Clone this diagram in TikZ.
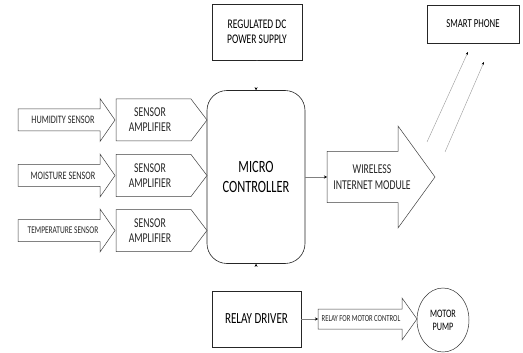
\documentclass[tikz,border=0pt]{standalone}
\usepackage{fontspec}
\setmainfont{Carlito}[FakeStretch=0.72]
\usetikzlibrary{arrows.meta,shapes.geometric}
\tikzset{
  box/.style={draw=black!85, line width=0.6pt, align=center, inner sep=1pt},
  blk/.style={draw=black!75, line width=0.5pt, fill=white},
  lbl/.style={align=center, inner sep=0pt, text=black!85},
}
\newcommand{\blockarrow}[6]{% x0, xhead, xtip, yc, halfbody, halfhead
  \draw[blk] (#1,#4-#5) -- (#2,#4-#5) -- (#2,#4-#6) -- (#3,#4) -- (#2,#4+#6) -- (#2,#4+#5) -- (#1,#4+#5) -- cycle;}
\newcommand{\pentagonarrow}[5]{% x0, xbend, xtip, yc, half
  \draw[blk] (#1,#4-#5) -- (#2,#4-#5) -- (#3,#4) -- (#2,#4+#5) -- (#1,#4+#5) -- cycle;}
\begin{document}
\begin{tikzpicture}[x=1pt,y=-1pt]
\useasboundingbox[fill=white] (0,0) rectangle (523,353);

% top boxes
\node[box, minimum width=90pt, minimum height=56pt, font=\fontsize{13.2}{15}\selectfont] (psu) at (257,32) {REGULATED DC\\POWER SUPPLY};
\node[box, minimum width=92pt, minimum height=38pt, font=\fontsize{12.2}{14}\selectfont] (phone) at (473,24) {SMART PHONE};

% microcontroller
\node[box, rounded corners=20pt, minimum width=98pt, minimum height=173pt, font=\fontsize{17.2}{20}\selectfont] (mc) at (256,177) {MICRO\\CONTROLLER};

% sensor rows
\foreach \yc/\nm/\txt/\fs in {120/hum/HUMIDITY SENSOR/11.4, 175.5/moi/MOISTURE SENSOR/11.4, 230.5/tem/TEMPERATURE SENSOR/10.3}{
  \blockarrow{18}{100}{115}{\yc}{11}{21.5}
  \node[lbl, font=\fontsize{\fs}{9}\selectfont] (\nm) at (63,\yc) {\txt};
  \pentagonarrow{116}{191}{207}{\yc}{21}
  \node[lbl, font=\fontsize{13.5}{15}\selectfont] (amp\nm) at (150,\yc) {SENSOR\\AMPLIFIER};
}

% wireless module
\blockarrow{327}{398}{435}{177}{25.5}{51}
\coordinate (wlin) at (327,177);
\node[lbl, font=\fontsize{13.5}{16}\selectfont] (wl) at (372,177) {WIRELESS\\INTERNET MODULE};
\draw[gray, line width=0.5pt, -{Stealth[length=3pt,width=3pt,black]}] (mc.east |- wlin) -- (wlin);

% wireless links to phone
\coordinate (l1a) at (427,142);
\coordinate (l1b) at (468,52);
\coordinate (l2a) at (445,152);
\coordinate (l2b) at (484,62);
\draw[gray!80, line width=0.4pt, -{Stealth[length=3pt,width=2.5pt,black]}] (l1a) -- (l1b);
\draw[gray!80, line width=0.4pt, -{Stealth[length=3pt,width=2.5pt,black]}] (l2a) -- (l2b);

% relay driver
\node[box, minimum width=89pt, minimum height=56pt, font=\fontsize{15.4}{17}\selectfont] (rd) at (256.5,319) {RELAY DRIVER};
\blockarrow{318}{402}{417}{319}{10}{21}
\coordinate (relin) at (318,319);
\node[lbl, font=\fontsize{9.2}{10}\selectfont] (rel) at (361,319) {RELAY FOR MOTOR CONTROL};
\draw[gray, line width=0.5pt, -{Stealth[length=3pt,width=3pt,black]}] (rd.east) -- (relin);

% motor pump
\node[draw=black!80, line width=0.5pt, ellipse, minimum width=52pt, minimum height=64pt, inner sep=0pt, align=center, font=\fontsize{11.4}{13}\selectfont] (pump) at (443,320) {MOTOR\\PUMP};

% hidden supply lines (only tips visible)
\draw[white, -{Stealth[length=3pt,width=3pt,black]}] (psu.south) -- (mc.north);
\draw[white, -{Stealth[length=3pt,width=3pt,black]}] (rd.north) -- (mc.south);
\end{tikzpicture}
\end{document}
